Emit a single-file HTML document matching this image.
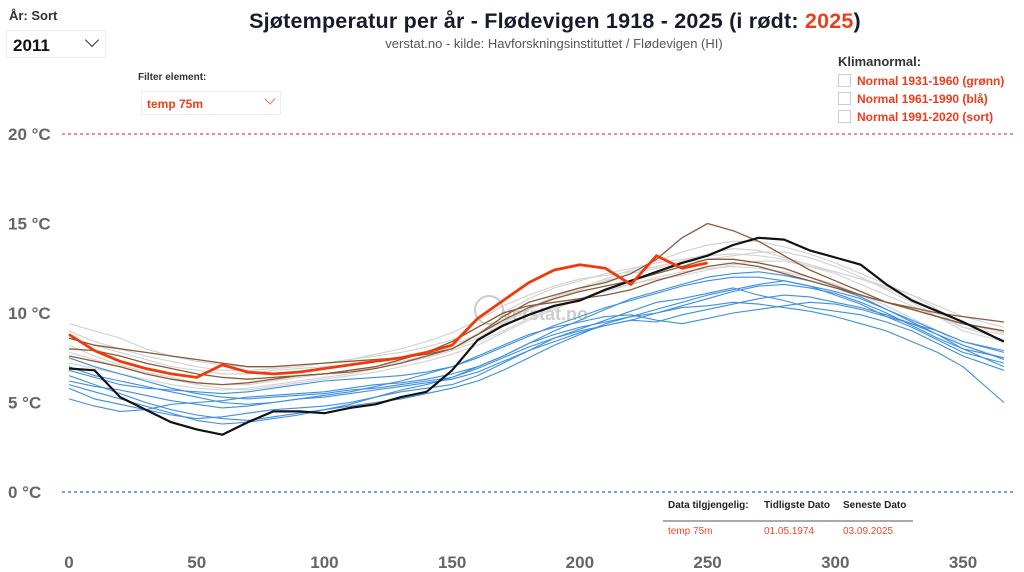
<!DOCTYPE html>
<html><head><meta charset="utf-8"><style>
body{margin:0;width:1024px;height:572px;background:#fff;font-family:"Liberation Sans",sans-serif;overflow:hidden;position:relative}
.abs{position:absolute}
</style></head><body>
<div class="abs" style="left:9px;top:8px;font-size:13px;font-weight:bold;color:#333">År: Sort</div>
<div class="abs" style="left:6px;top:30px;width:100px;height:28px;border:1px solid #eee;box-sizing:border-box">
<span style="position:absolute;left:6px;top:5px;font-size:17px;font-weight:bold;color:#111">2011</span>
<span style="position:absolute;left:80px;top:4px;width:9px;height:9px;border-right:1.5px solid #333;border-bottom:1.5px solid #333;transform:rotate(45deg)"></span></div>
<div class="abs" style="left:138px;top:72px;font-size:10px;font-weight:bold;color:#333">Filter element:</div>
<div class="abs" style="left:141px;top:91px;width:140px;height:24px;border:1px solid #eee;box-sizing:border-box">
<span style="position:absolute;left:5px;top:5px;font-size:12px;font-weight:bold;color:#e8401c">temp 75m</span>
<span style="position:absolute;left:124px;top:3px;width:7px;height:7px;border-right:1.3px solid #f07050;border-bottom:1.3px solid #f07050;transform:rotate(45deg)"></span></div>
<div class="abs" style="left:0;width:1110px;text-align:center;top:9px;font-size:21.5px;font-weight:bold;color:#1a1a2e;letter-spacing:0.2px">Sjøtemperatur per år - Flødevigen 1918 - 2025 (i rødt: <span style="color:#e8401c">2025</span>)</div>
<div class="abs" style="left:0;width:1108px;text-align:center;top:36px;font-size:13px;color:#555">verstat.no - kilde: Havforskningsinstituttet / Flødevigen (HI)</div>
<div class="abs" style="left:838px;top:54px;font-size:13px;font-weight:bold;color:#333">Klimanormal:
<div style="margin-top:5px;color:#f03a1a;font-size:12px"><span style="display:inline-block;width:11px;height:11px;border:1px solid #ccc;vertical-align:-2px;margin-right:6px"></span>Normal 1931-1960 (grønn)</div>
<div style="margin-top:4px;color:#f03a1a;font-size:12px"><span style="display:inline-block;width:11px;height:11px;border:1px solid #ccc;vertical-align:-2px;margin-right:6px"></span>Normal 1961-1990 (blå)</div>
<div style="margin-top:4px;color:#f03a1a;font-size:12px"><span style="display:inline-block;width:11px;height:11px;border:1px solid #ccc;vertical-align:-2px;margin-right:6px"></span>Normal 1991-2020 (sort)</div>
</div>
<svg id="chart" class="abs" style="left:0;top:0" width="1024" height="572"></svg>
<div class="abs" style="left:663px;top:500px;width:250px;font-size:10px">
<div style="font-weight:bold;color:#222;height:20px;border-bottom:2px solid #aaa;position:relative"><span style="position:absolute;left:5px">Data tilgjengelig:</span><span style="position:absolute;left:101px">Tidligste Dato</span><span style="position:absolute;left:180px">Seneste Dato</span></div>
<div style="color:#f04a2a;position:relative;top:4px"><span style="position:absolute;left:5px">temp 75m</span><span style="position:absolute;left:101px">01.05.1974</span><span style="position:absolute;left:180px">03.09.2025</span></div>
</div>
<script>
const xTicks=[0,50,100,150,200,250,300,350];
const yTicks=[0,5,10,15,20];
const days=[0,10,20,30,40,50,60,70,80,90,100,110,120,130,140,150,160,170,180,190,200,210,220,230,240,250,260,270,280,290,300,310,320,330,340,350,366];
const blue1=[5.2,4.8,4.5,4.6,4.9,5.0,5.1,5.3,5.4,5.5,5.6,5.8,6.0,6.1,6.3,6.6,7.0,7.6,8.3,8.8,9.2,9.5,9.8,10.0,10.3,10.4,10.6,10.5,10.3,10.1,9.8,9.4,9.0,8.4,7.8,7.0,5.0];
const blue2=[7.5,7.0,6.6,6.2,5.8,5.5,5.3,5.2,5.3,5.4,5.5,5.7,5.8,6.0,6.2,6.4,6.9,7.5,8.1,8.6,9.0,9.3,9.6,10.0,10.4,10.8,11.2,11.5,11.6,11.4,11.1,10.6,10.0,9.3,8.6,8.0,7.5];
const blue3=[6.5,6.0,5.5,5.0,4.6,4.3,4.1,4.0,4.2,4.4,4.6,4.8,5.0,5.2,5.5,5.8,6.2,6.8,7.5,8.2,8.8,9.4,9.8,10.2,10.6,11.0,11.3,11.6,11.8,11.5,11.0,10.5,9.8,9.2,8.5,7.8,7.2];
const blue4=[7.0,6.5,6.2,5.9,5.6,5.3,5.0,4.9,5.0,5.2,5.4,5.6,5.9,6.2,6.6,7.0,7.6,8.2,8.8,9.2,9.5,9.8,9.9,9.6,9.4,9.7,10.0,10.2,10.4,10.6,10.5,10.2,9.8,9.4,9.0,8.4,7.9];
const blue5=[6.0,5.6,5.2,4.8,4.4,4.0,3.8,3.9,4.1,4.3,4.6,4.9,5.3,5.7,6.0,6.4,7.0,7.6,8.3,9.0,9.6,10.2,10.8,11.2,11.6,12.0,12.2,12.3,12.1,11.8,11.4,10.9,10.2,9.5,8.8,8.0,7.0];
const blue6=[6.8,6.4,6.0,5.8,5.7,5.6,5.5,5.6,5.8,6.0,6.2,6.3,6.4,6.5,6.7,7.0,7.5,8.1,8.7,9.3,9.8,10.3,10.7,11.1,11.5,11.8,12.0,12.0,11.8,11.5,11.2,10.8,10.2,9.6,9.0,8.4,7.8];
const blue7=[5.8,5.2,4.9,4.6,4.3,4.1,4.2,4.4,4.6,4.7,4.8,5.0,5.3,5.6,5.8,6.0,6.5,7.2,7.9,8.6,9.1,9.6,10.1,10.6,10.8,11.1,11.4,11.0,10.7,10.3,10.1,9.9,9.5,9.0,8.3,7.6,6.8];
const blue8=[6.2,5.9,5.7,5.4,5.1,4.9,4.7,4.8,5.0,5.2,5.3,5.5,5.7,5.9,6.1,6.3,6.7,7.3,7.9,8.4,8.9,9.3,9.6,9.5,9.9,10.2,10.5,10.8,11.0,10.9,10.6,10.3,9.9,9.4,8.8,8.2,7.4];
const grey1=[9.0,8.4,8.0,7.6,7.3,7.0,6.8,6.8,6.9,7.0,7.2,7.4,7.6,7.8,8.1,8.5,9.2,10.0,10.8,11.4,11.8,12.2,12.5,12.8,13.0,13.2,13.3,13.2,13.0,12.6,12.2,11.6,11.0,10.4,9.8,9.2,8.8];
const grey2=[8.2,7.6,7.1,6.7,6.4,6.1,6.0,6.0,6.2,6.4,6.6,6.8,7.0,7.3,7.6,8.0,8.6,9.4,10.2,10.8,11.3,11.8,12.2,12.5,12.8,13.0,13.2,13.4,13.4,13.1,12.6,12.0,11.3,10.6,9.8,9.0,8.4];
const grey3=[7.8,7.4,7.0,6.6,6.3,6.0,5.8,5.7,5.9,6.1,6.3,6.5,6.7,7.0,7.3,7.7,8.2,8.9,9.6,10.2,10.8,11.2,11.6,12.0,12.3,12.5,12.6,12.5,12.3,12.0,11.6,11.0,10.4,9.7,9.0,8.2,7.5];
const grey4=[8.6,8.2,7.8,7.4,7.0,6.8,6.6,6.6,6.8,6.9,7.0,7.1,7.3,7.5,7.8,8.2,8.8,9.5,10.3,10.9,11.4,11.9,12.4,12.9,13.4,13.8,14.0,14.0,13.7,13.3,12.8,12.2,11.6,11.0,10.4,9.8,9.2];
const grey5=[9.4,9.0,8.6,8.0,7.6,7.3,7.1,7.0,7.0,7.1,7.2,7.4,7.7,8.0,8.4,8.9,9.6,10.4,11.0,11.5,11.9,12.1,12.3,12.6,12.9,13.3,13.6,13.5,13.1,12.7,12.3,11.9,11.4,10.8,10.0,9.2,8.5];
const grey6=[7.2,6.9,6.6,6.3,6.0,5.8,5.7,5.8,6.0,6.2,6.4,6.6,6.9,7.2,7.5,7.9,8.4,9.0,9.7,10.3,10.8,11.3,11.6,11.9,12.1,12.4,12.7,12.9,12.9,12.6,12.3,11.9,11.5,11.0,10.2,9.4,8.9];
const brown1=[8.6,8.2,8.0,7.8,7.6,7.4,7.2,7.0,7.0,7.1,7.2,7.3,7.4,7.5,7.7,8.0,8.8,9.8,10.6,11.0,11.4,11.7,12.2,13.0,14.2,15.0,14.6,14.0,13.2,12.4,11.8,11.2,10.6,10.2,9.8,9.4,9.0];
const brown2=[8.0,7.9,7.6,7.2,6.9,6.6,6.4,6.3,6.4,6.5,6.6,6.7,6.9,7.2,7.6,8.0,8.8,9.6,10.3,10.8,11.2,11.5,11.8,12.2,12.6,13.0,13.0,12.8,12.5,12.0,11.5,11.0,10.6,10.2,9.8,9.4,9.0];
const brown3=[7.6,7.3,7.0,6.6,6.3,6.1,6.0,6.1,6.3,6.5,6.6,6.8,7.0,7.4,7.8,8.4,9.2,10.0,10.4,10.6,10.8,11.0,11.3,11.8,12.2,12.6,12.8,12.6,12.2,11.8,11.4,11.0,10.6,10.3,10.0,9.8,9.5];
const black2011=[6.9,6.8,5.3,4.6,3.9,3.5,3.2,3.9,4.5,4.5,4.4,4.7,4.9,5.3,5.6,6.8,8.5,9.3,9.9,10.4,10.7,11.3,11.8,12.3,12.8,13.2,13.8,14.2,14.1,13.5,13.1,12.7,11.6,10.7,10.1,9.5,8.4];
const red2025=[8.8,7.9,7.3,6.9,6.6,6.4,7.1,6.7,6.6,6.7,6.9,7.1,7.3,7.5,7.8,8.2,9.7,10.7,11.7,12.4,12.7,12.5,11.6,13.2,12.5,12.8];
const x=d=>69+d*(894/350), y=t=>492-t*17.9;
const svg=document.getElementById('chart'),NS='http://www.w3.org/2000/svg';
function mk(tag,attrs){const e=document.createElementNS(NS,tag);for(const k in attrs)e.setAttribute(k,attrs[k]);svg.appendChild(e);return e;}
yTicks.forEach(t=>{const l=mk('text',{x:8,y:y(t)+6,'font-size':17,'font-weight':'bold',fill:'#666'});l.textContent=t+' °C';

});
[[20,'#f58a8a'],[0,'#7a9cf0']].forEach(([t,c])=>{const l=mk('line',{x1:62,x2:1016,y1:y(t),y2:y(t),stroke:c,'stroke-width':2,'stroke-dasharray':'3,3'});

});
xTicks.forEach(d=>{const l=mk('text',{x:x(d),y:568,'text-anchor':'middle','font-size':17,'font-weight':'bold',fill:'#666'});l.textContent=d;

});
const wm=mk('text',{x:545,y:320,'font-size':18,'font-weight':'bold',fill:'#ccc','text-anchor':'middle'});wm.textContent='verstat.no';


mk('circle',{cx:489,cy:310,r:14,fill:'none',stroke:'#ccc','stroke-width':2});
function line(vals,c,w,name){const p=vals.map((v,i)=>(i?'L':'M')+x(days[i]).toFixed(1)+','+y(v).toFixed(1)).join('');
const e=mk('path',{d:p,fill:'none',stroke:c,'stroke-width':w,'stroke-linejoin':'round'});

}
[grey1,grey2,grey3,grey4,grey5,grey6].forEach(s=>line(s,'#d4d4d4',1.2,'series-grey'));
[blue1,blue2,blue3,blue4,blue5,blue6,blue7,blue8].forEach(s=>line(s,'#3d8fe0',1.1,'series-blue'));
[brown1,brown2,brown3].forEach(s=>line(s,'#8a5a3a',1.3,'series-brown'));
line(black2011,'#111',2.2,'series-2011');
line(red2025,'#f03a0a',2.8,'series-2025');
</script>
</body></html>
